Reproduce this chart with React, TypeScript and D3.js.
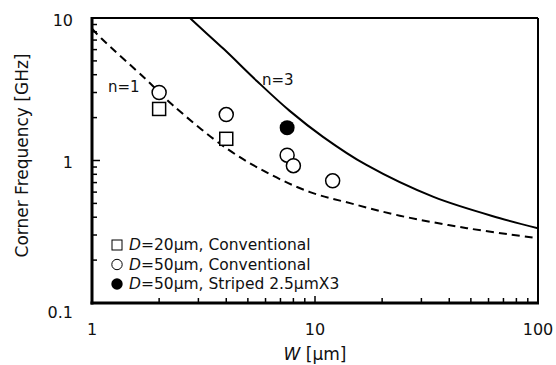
import { useEffect, useRef } from 'react';
import * as d3 from 'd3';

const WIDTH = 556;
const HEIGHT = 365;
const MARGIN = { top: 18, right: 18, bottom: 62, left: 92 };

// datos medidos
const squareW = [2, 4];
const squareF = [2.3, 1.42];
const openW = [2, 4, 7.5, 8, 12];
const openF = [3.0, 2.1, 1.09, 0.92, 0.72];
const filledW = [7.5];
const filledF = [1.7];

// curvas de modelo
const n1W = [1, 1.1, 1.75, 2.3, 4, 6.3, 9.5, 14.5, 24, 48, 100];
const n1F = [8.4, 7.2, 3.7, 2.45, 1.22, 0.8, 0.6, 0.5, 0.41, 0.335, 0.285];
const n3W = [2.48, 2.75, 3.9, 5.5, 7.7, 10.9, 17, 34, 67, 100];
const n3F = [11.8, 10, 6.05, 3.6, 2.23, 1.46, 0.93, 0.555, 0.395, 0.335];

const xMajor = [1, 10, 100];
const yMajor = [0.1, 1, 10];
const legendItems = [
  { marker: 'square', text: '=20μm, Conventional' },
  { marker: 'open', text: '=50μm, Conventional' },
  { marker: 'filled', text: '=50μm, Striped 2.5μmX3' },
];

const FONT = '"DejaVu Sans", Verdana, sans-serif';

export default function App() {
  const svgRef = useRef<SVGSVGElement>(null);

  useEffect(() => {
    if (!svgRef.current) return;
    const svg = d3.select(svgRef.current);
    svg.selectAll('*').remove();

    const bw = WIDTH - MARGIN.left - MARGIN.right;
    const bh = HEIGHT - MARGIN.top - MARGIN.bottom;

    const x = d3.scaleLog().domain([1, 100]).range([0, bw]);
    const y = d3.scaleLog().domain([0.1, 10]).range([bh, 0]);

    const g = svg.append('g').attr('transform', `translate(${MARGIN.left},${MARGIN.top})`);

    g.append('clipPath').attr('id', 'plot-clip')
      .append('rect').attr('width', bw).attr('height', bh);

    // curvas
    const line = d3.line<[number, number]>()
      .x(d => x(d[0]))
      .y(d => y(d[1]))
      .curve(d3.curveCatmullRom.alpha(0.5));

    g.append('path')
      .attr('d', line(n1W.map((w, i) => [w, n1F[i]]))!)
      .attr('fill', 'none')
      .attr('stroke', '#000')
      .attr('stroke-width', 2)
      .attr('stroke-dasharray', '8,5')
      .attr('clip-path', 'url(#plot-clip)');

    g.append('path')
      .attr('d', line(n3W.map((w, i) => [w, n3F[i]]))!)
      .attr('fill', 'none')
      .attr('stroke', '#000')
      .attr('stroke-width', 2)
      .attr('clip-path', 'url(#plot-clip)');

    // puntos
    g.selectAll('.sq')
      .data(squareW.map((w, i) => [w, squareF[i]]))
      .join('rect')
      .attr('x', d => x(d[0]) - 6.5)
      .attr('y', d => y(d[1]) - 6.5)
      .attr('width', 13)
      .attr('height', 13)
      .attr('fill', '#fff')
      .attr('stroke', '#000')
      .attr('stroke-width', 1.5);

    g.selectAll('.op')
      .data(openW.map((w, i) => [w, openF[i]]))
      .join('circle')
      .attr('cx', d => x(d[0]))
      .attr('cy', d => y(d[1]))
      .attr('r', 7)
      .attr('fill', '#fff')
      .attr('stroke', '#000')
      .attr('stroke-width', 1.5);

    g.selectAll('.fi')
      .data(filledW.map((w, i) => [w, filledF[i]]))
      .join('circle')
      .attr('cx', d => x(d[0]))
      .attr('cy', d => y(d[1]))
      .attr('r', 7.5)
      .attr('fill', '#000');

    // etiquetas n
    g.append('text').attr('x', x(1.18)).attr('y', y(3.28)).attr('dy', '0.35em')
      .style('font-family', FONT).style('font-size', '15px').style('fill', '#111').text('n=1');
    g.append('text').attr('x', x(5.78)).attr('y', y(3.67)).attr('dy', '0.35em')
      .style('font-family', FONT).style('font-size', '15px').style('fill', '#111').text('n=3');

    // marco
    g.append('line').attr('x1', 0).attr('x2', bw).attr('y1', 0).attr('y2', 0)
      .attr('stroke', '#000').attr('stroke-width', 2);
    g.append('line').attr('x1', bw).attr('x2', bw).attr('y1', 0).attr('y2', bh)
      .attr('stroke', '#000').attr('stroke-width', 2);

    // ticks hacia dentro
    y.ticks().forEach(t => {
      const major = yMajor.includes(+t.toPrecision(3));
      g.append('line')
        .attr('x1', 0).attr('x2', major ? 8 : 5)
        .attr('y1', y(t)).attr('y2', y(t))
        .attr('stroke', '#000').attr('stroke-width', 1.5);
    });
    x.ticks().forEach(t => {
      const major = xMajor.includes(+t.toPrecision(3));
      g.append('line')
        .attr('x1', x(t)).attr('x2', x(t))
        .attr('y1', bh).attr('y2', bh - (major ? 7 : 5))
        .attr('stroke', '#000').attr('stroke-width', 1.5);
    });

    // ejes
    g.append('line').attr('x1', 0).attr('x2', 0).attr('y1', -1).attr('y2', bh + 1.5)
      .attr('stroke', '#000').attr('stroke-width', 3);
    g.append('line').attr('x1', -1.5).attr('x2', bw + 1).attr('y1', bh).attr('y2', bh)
      .attr('stroke', '#000').attr('stroke-width', 3);

    // etiquetas de ticks
    g.selectAll('.ylab')
      .data(yMajor)
      .join('text')
      .attr('x', -19)
      .attr('y', d => y(d) + (d === 0.1 ? 9 : 2))
      .attr('dy', '0.35em')
      .attr('text-anchor', 'end')
      .style('font-family', FONT)
      .style('font-size', '16px')
      .style('fill', '#111')
      .text(d => String(d));

    g.selectAll('.xlab')
      .data(xMajor)
      .join('text')
      .attr('x', d => x(d))
      .attr('y', bh + 32)
      .attr('text-anchor', 'middle')
      .style('font-family', FONT)
      .style('font-size', '16px')
      .style('fill', '#111')
      .text(d => String(d));

    // títulos de ejes
    const xt = g.append('text')
      .attr('x', bw / 2)
      .attr('y', bh + 57)
      .attr('text-anchor', 'middle')
      .style('font-family', FONT)
      .style('font-size', '17px')
      .style('fill', '#111');
    xt.append('tspan').style('font-style', 'italic').text('W');
    xt.append('tspan').text(' [μm]');

    g.append('text')
      .attr('transform', `translate(${-70},${bh / 2 - 5}) rotate(-90)`)
      .attr('text-anchor', 'middle')
      .attr('dy', '0.35em')
      .style('font-family', FONT)
      .style('font-size', '17px')
      .style('fill', '#111')
      .text('Corner Frequency [GHz]');

    // leyenda
    const lg = g.append('g').attr('transform', `translate(${117 - MARGIN.left},${245 - MARGIN.top})`);
    legendItems.forEach((item, i) => {
      const row = lg.append('g').attr('transform', `translate(0,${i * 19.5})`);
      if (item.marker === 'square') {
        row.append('rect').attr('x', -5).attr('y', -5).attr('width', 10).attr('height', 10)
          .attr('fill', '#fff').attr('stroke', '#000').attr('stroke-width', 1);
      } else if (item.marker === 'open') {
        row.append('circle').attr('r', 5.2).attr('fill', '#fff').attr('stroke', '#000').attr('stroke-width', 1);
      } else {
        row.append('circle').attr('r', 5.7).attr('fill', '#000');
      }
      const t = row.append('text')
        .attr('x', 12)
        .attr('dy', '0.35em')
        .style('font-family', FONT)
        .style('font-size', '15.5px')
        .style('fill', '#111');
      t.append('tspan').style('font-style', 'italic').text('D');
      t.append('tspan').text(item.text);
    });
  }, []);

  return (
    <div>
      <style>{`body{margin:0}`}</style>
      <svg ref={svgRef} width={WIDTH} height={HEIGHT} style={{ display: 'block', background: '#fff' }} />
    </div>
  );
}
